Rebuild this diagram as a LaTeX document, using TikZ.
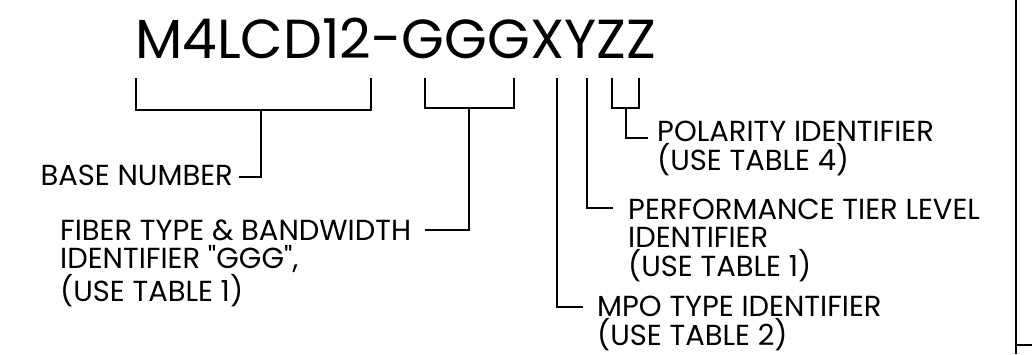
\documentclass[tikz,border=0pt]{standalone}
\usepackage{fontspec}
\setmainfont{Poppins}[Ligatures=TeXOff]
\usetikzlibrary{positioning,calc}
\tikzset{
  partno/.style={anchor=base west, inner sep=0pt, font=\fontsize{55}{55}\selectfont},
  lbl/.style={anchor=base west, inner sep=0pt, align=left, font=\fontsize{29}{28.5}\selectfont},
  lead/.style={line width=1.1pt},
}
\begin{document}
\begin{tikzpicture}[x=1pt,y=-1pt]
\useasboundingbox (0,0) rectangle (1032,354);
\node[partno] (code) at (135,58) {M4LCD12-GGGXYZZ};

% bracket end points under the code
\coordinate (base-l) at (136,78);
\coordinate (base-r) at (371,78);
\coordinate (base-m) at (261,110);
\coordinate (ggg-l) at (425,78);
\coordinate (ggg-r) at (514,78);
\coordinate (ggg-m) at (469,108);
\coordinate (x-top) at (557,78);
\coordinate (y-top) at (587,78);
\coordinate (zz-l) at (612,78);
\coordinate (zz-r) at (639,78);
\coordinate (zz-m) at (626,108);

% labels (multi-line ones sit on their last line)
\node[lbl, anchor=base east] (base) at (233,185) {BASE NUMBER};
\node[lbl] (fiber) at (60,301) {FIBER TYPE \& BANDWIDTH\\IDENTIFIER "GGG",\\(USE TABLE 1)};
\node[lbl] (polar) at (657,170) {POLARITY IDENTIFIER\\(USE TABLE 4)};
\node[lbl] (perf) at (628,276) {PERFORMANCE TIER LEVEL\\IDENTIFIER\\(USE TABLE 1)};
\node[lbl] (mpo) at (597,345) {MPO TYPE IDENTIFIER\\(USE TABLE 2)};

% leader ends
\coordinate (base-e) at (239,177);
\coordinate (fiber-e) at (425,230);
\coordinate (polar-e) at (648,138);
\coordinate (perf-e) at (613,208);
\coordinate (mpo-e) at (583,307);

% brackets and leaders
\draw[lead] (base-l) |- (base-m) -| (base-r);
\draw[lead] (base-m) |- (base-e);
\draw[lead] (ggg-l) |- (ggg-m) -| (ggg-r);
\draw[lead] (ggg-m) |- (fiber-e);
\draw[lead] (zz-l) |- (zz-m) -| (zz-r);
\draw[lead] (zz-m) |- (polar-e);
\draw[lead] (y-top) |- (perf-e);
\draw[lead] (x-top) |- (mpo-e);

% frame edge
\draw[lead] (1016,0) -- (1016,354);
\draw[lead] (1016,345) -- (1032,345);
\end{tikzpicture}
\end{document}
